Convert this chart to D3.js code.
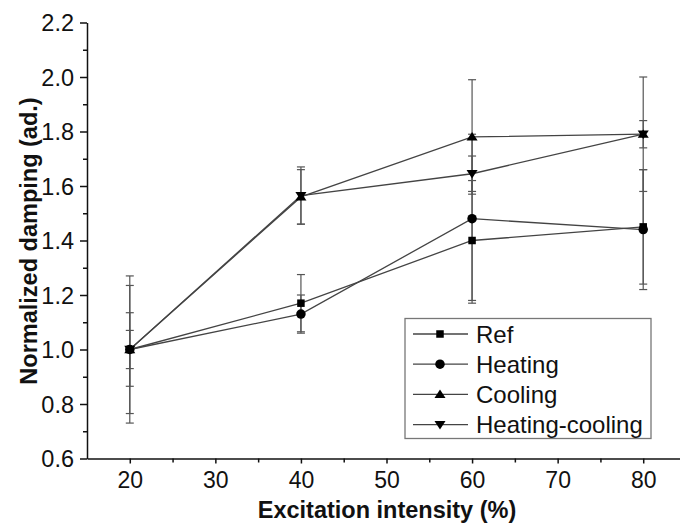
<!DOCTYPE html>
<html>
<head>
<meta charset="utf-8">
<script src="https://cdn.jsdelivr.net/npm/d3@7"></script>
<style>
  body { margin: 0; background: #fff; }
  svg { display: block; font-family: "Liberation Sans", Arial, sans-serif; }
</style>
</head>
<body>
<svg></svg>
<script>
var width = 680;
var height = 525;

// excitation intensity (%)
var intensity = [20, 40, 60, 80];

var seriesNames = ['Ref', 'Heating', 'Cooling', 'Heating-cooling'];
var refValues = [1.00, 1.17, 1.40, 1.45];
var refErrors = [0.07, 0.105, 0.22, 0.21];
var heatingValues = [1.00, 1.13, 1.48, 1.44];
var heatingErrors = [0.135, 0.07, 0.31, 0.22];
var coolingValues = [1.00, 1.56, 1.78, 1.79];
var coolingErrors = [0.27, 0.10, 0.21, 0.21];
var heatCoolValues = [1.00, 1.565, 1.645, 1.79];
var heatCoolErrors = [0.235, 0.105, 0.065, 0.05];

var xTicks = [20, 30, 40, 50, 60, 70, 80];
var xMinorTicks = [25, 35, 45, 55, 65, 75, 85];
var yTicks = [0.6, 0.8, 1.0, 1.2, 1.4, 1.6, 1.8, 2.0, 2.2];
var yMinorTicks = [0.7, 0.9, 1.1, 1.3, 1.5, 1.7, 1.9, 2.1];

var series = [
  { name: seriesNames[0], values: refValues, errors: refErrors, symbol: 'square' },
  { name: seriesNames[1], values: heatingValues, errors: heatingErrors, symbol: 'circle' },
  { name: seriesNames[2], values: coolingValues, errors: coolingErrors, symbol: 'up' },
  { name: seriesNames[3], values: heatCoolValues, errors: heatCoolErrors, symbol: 'down' }
];

var svg = d3.select('svg')
  .attr('width', width)
  .attr('height', height);

var xScale = d3.scaleLinear().domain([15, 85]).range([87, 686]);
var yScale = d3.scaleLinear().domain([0.6, 2.2]).range([458.5, 22.5]);

function marker(sel, symbol, s) {
  if (symbol === 'square') {
    sel.append('rect').attr('x', -s / 2).attr('y', -s / 2).attr('width', s).attr('height', s);
  } else if (symbol === 'circle') {
    sel.append('circle').attr('r', s / 2 + 0.5);
  } else if (symbol === 'up') {
    var h = s * 0.95;
    sel.append('path').attr('d', 'M0,' + (-h * 0.6) + 'L' + (s * 0.65) + ',' + (h * 0.45) + 'L' + (-s * 0.65) + ',' + (h * 0.45) + 'Z');
  } else {
    var h2 = s * 0.95;
    sel.append('path').attr('d', 'M0,' + (h2 * 0.6) + 'L' + (s * 0.65) + ',' + (-h2 * 0.45) + 'L' + (-s * 0.65) + ',' + (-h2 * 0.45) + 'Z');
  }
}

// minor ticks
svg.append('g')
  .attr('transform', 'translate(0,' + 458.5 + ')')
  .call(d3.axisBottom(xScale).tickValues(xMinorTicks).tickSize(4).tickSizeOuter(0).tickFormat(''))
  .call(g => g.select('.domain').remove());
svg.append('g')
  .attr('transform', 'translate(87,0)')
  .call(d3.axisLeft(yScale).tickValues(yMinorTicks).tickSize(4).tickSizeOuter(0).tickFormat(''))
  .call(g => g.select('.domain').remove());

// major axes
var xAxis = svg.append('g')
  .attr('transform', 'translate(0,' + 458.5 + ')')
  .call(d3.axisBottom(xScale).tickValues(xTicks).tickSize(5).tickSizeOuter(0).tickPadding(8));
xAxis.selectAll('text').style('font-size', '23px').attr('fill', '#111');

var yAxis = svg.append('g')
  .attr('transform', 'translate(87,0)')
  .call(d3.axisLeft(yScale).tickValues(yTicks).tickSize(7).tickSizeOuter(0).tickPadding(6)
    .tickFormat(d3.format('.1f')));
yAxis.selectAll('text').style('font-size', '23.5px').attr('fill', '#111').attr('dy', '0.34em');

svg.selectAll('.domain, .tick line').attr('stroke', '#111').attr('stroke-width', 1.5);
svg.selectAll('.tick text').style('font-family', '"Liberation Sans", Arial, sans-serif');

// axis titles
svg.append('text')
  .text('Excitation intensity (%)')
  .attr('x', 387)
  .attr('y', 518)
  .attr('text-anchor', 'middle')
  .style('font-weight', 'bold')
  .style('font-size', '23.5px')
  .attr('fill', '#111');

svg.append('text')
  .text('Normalized damping (ad.)')
  .attr('transform', 'translate(37,241) rotate(-90)')
  .attr('text-anchor', 'middle')
  .style('font-weight', 'bold')
  .style('font-size', '23.5px')
  .attr('fill', '#111');

// lines
var line = d3.line()
  .x((d, i) => xScale(intensity[i]))
  .y(d => yScale(d));

svg.append('g').selectAll('path')
  .data(series)
  .enter()
  .append('path')
  .attr('d', d => line(d.values))
  .attr('fill', 'none')
  .attr('stroke', '#444')
  .attr('stroke-width', 1.3);

// error bars
var errG = svg.append('g').attr('stroke', '#555').attr('stroke-width', 1.2);
series.forEach(function(s) {
  s.values.forEach(function(v, i) {
    var x = xScale(intensity[i]);
    var yTop = yScale(v + s.errors[i]);
    var yBot = yScale(v - s.errors[i]);
    errG.append('line').attr('x1', x).attr('x2', x).attr('y1', yTop).attr('y2', yBot);
    errG.append('line').attr('x1', x - 4).attr('x2', x + 4).attr('y1', yTop).attr('y2', yTop);
    errG.append('line').attr('x1', x - 4).attr('x2', x + 4).attr('y1', yBot).attr('y2', yBot);
  });
});

// markers
series.forEach(function(s) {
  s.values.forEach(function(v, i) {
    var g = svg.append('g')
      .attr('transform', 'translate(' + xScale(intensity[i]) + ',' + yScale(v) + ')')
      .attr('fill', '#000');
    marker(g, s.symbol, s.symbol === 'square' ? 7.5 : 8.5);
  });
});

// legend
var legend = svg.append('g');
legend.append('rect')
  .attr('x', 405).attr('y', 318.5)
  .attr('width', 246).attr('height', 120)
  .attr('fill', '#fff')
  .attr('stroke', '#777')
  .attr('stroke-width', 1.3);

series.forEach(function(s, i) {
  var y = 334 + i * 30.2;
  var row = legend.append('g').attr('transform', 'translate(0,' + y + ')');
  row.append('line')
    .attr('x1', 413).attr('x2', 468)
    .attr('stroke', '#444').attr('stroke-width', 1.3);
  var m = row.append('g').attr('transform', 'translate(440,0)').attr('fill', '#000');
  marker(m, s.symbol, s.symbol === 'square' ? 7.5 : 8.5);
  row.append('text')
    .text(s.name)
    .attr('x', 476)
    .attr('y', 8.5)
    .style('font-size', '24px')
    .attr('fill', '#111');
});
</script>
</body>
</html>
